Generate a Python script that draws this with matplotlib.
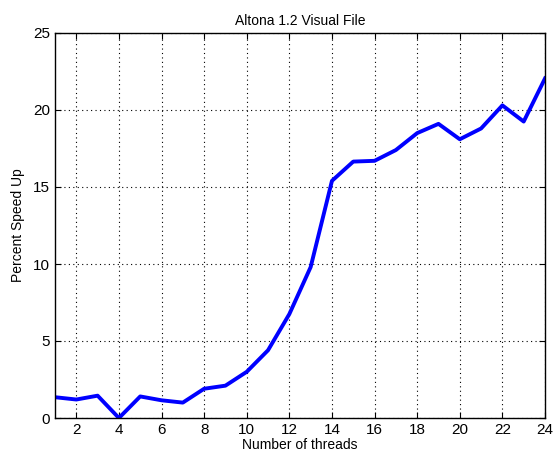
import matplotlib
matplotlib.use('Agg')
import matplotlib.pyplot as plt

threads = list(range(1, 25))
speedup = [1.35, 1.2, 1.45, 0.0, 1.4, 1.15, 1.0, 1.9, 2.1, 3.0, 4.4, 6.75,
           9.8, 15.4, 16.65, 16.7, 17.4, 18.5, 19.1, 18.1, 18.8, 20.3, 19.25, 22.05]
xticks = list(range(2, 25, 2))
yticks = [0, 5, 10, 15, 20, 25]

plt.rcParams['font.family'] = ['Liberation Sans', 'DejaVu Sans']

fig = plt.figure(figsize=(5.57, 4.57), dpi=100)
ax = fig.add_axes([55 / 557, 39 / 457, 490 / 557, 385 / 457])

ax.plot(threads, speedup, color='#0000ff', linewidth=2.8)
ax.set_xlim(1, 24)
ax.set_ylim(0, 25)
ax.set_xticks(xticks)
ax.set_yticks(yticks)
ax.grid(True, color='black', linestyle=(0, (1, 3)), linewidth=0.8)
ax.tick_params(direction='in', top=True, right=True, labelsize=11, length=4)
for s in ax.spines.values():
    s.set_linewidth(1.0)

ax.set_title('Altona 1.2 Visual File', fontsize=10, pad=6)
ax.set_xlabel('Number of threads', fontsize=10, labelpad=1)
ax.set_ylabel('Percent Speed Up', fontsize=10, labelpad=6)

fig.savefig('out.png', dpi=100)
